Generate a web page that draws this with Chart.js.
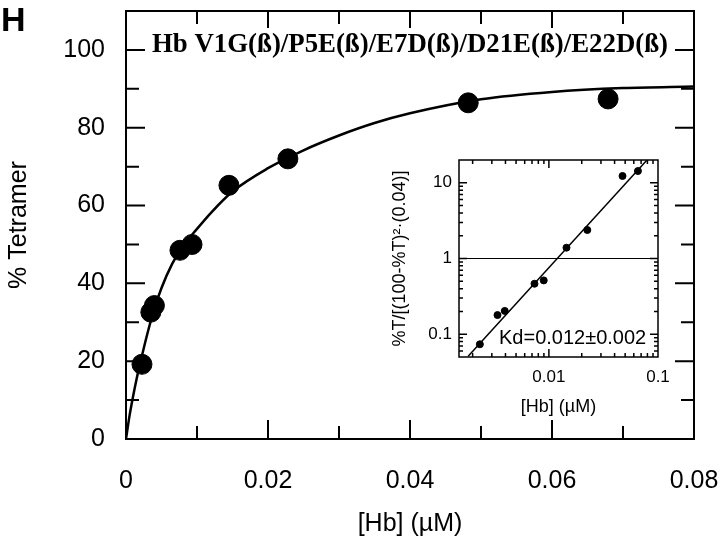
<!DOCTYPE html>
<html>
<head>
<meta charset="utf-8">
<script src="https://cdn.jsdelivr.net/npm/chart.js@4"></script>
<style>
    body { margin: 0; background: #fff; }
    #wrap { position: relative; width: 720px; height: 542px; }
    #wrap canvas { position: absolute; left: 0; top: 0; }
</style>
</head>
<body>
<div id="wrap">
    <canvas id="mainChart" width="720" height="542"></canvas>
    <canvas id="insetChart" width="720" height="542"></canvas>
</div>
<script>
// Main panel data (% tetramer vs [Hb])
const hbConc = [0.00225, 0.0035, 0.0040, 0.0076, 0.0093, 0.0145, 0.0228, 0.0482, 0.0679];
const pctTetramer = [19.2, 32.6, 34.3, 48.5, 50.0, 65.2, 72.0, 86.4, 87.4];

// Fitted curve
const fitConc = [0, 0.0005, 0.001, 0.0015, 0.002, 0.003, 0.004, 0.005, 0.0065, 0.008, 0.01, 0.012, 0.015, 0.02, 0.025, 0.03, 0.035, 0.04, 0.05, 0.06, 0.07, 0.08];
const fitPct = [0, 6, 11, 15.5, 19.5, 27, 33.5, 38.8, 45, 49.5, 54, 58.2, 63.6, 69.6, 74.2, 78, 81.2, 83.7, 87.3, 89.2, 90.2, 90.6];

const xTicks = [0, 0.02, 0.04, 0.06, 0.08];
const yTicks = [0, 20, 40, 60, 80, 100];

// Inset data (log-log)
const insetConc = [0.00233, 0.00338, 0.00394, 0.00738, 0.00897, 0.0145, 0.0225, 0.0473, 0.0655];
const insetRatio = [0.0736, 0.179, 0.203, 0.464, 0.514, 1.39, 2.38, 12.3, 14.3];
const insetFitConc = [0.00182, 0.0786];
const insetFitRatio = [0.051, 19.7];
const unityConc = [0.0015, 0.1];
const unityRatio = [1, 1];
const insetXTicks = [0.01, 0.1];
const insetYTicks = [0.1, 1, 10];

const SANS = '"Liberation Sans", Arial, sans-serif';
const SERIF = '"Liberation Serif", "Times New Roman", serif';
const NO_LINE = 'rgba(0,0,0,0)';

function pts(xs, ys) {
    return xs.map((x, i) => ({ x: x, y: ys[i] }));
}

// Frame, inward ticks and texts for the main panel
const mainDecor = {
    id: 'mainDecor',
    afterDraw(chart) {
        const ctx = chart.ctx;
        const a = chart.chartArea;
        const xs = chart.scales.x, ys = chart.scales.y;
        ctx.save();
        ctx.strokeStyle = '#000';
        ctx.lineWidth = 2;
        ctx.strokeRect(a.left, a.top, a.right - a.left, a.bottom - a.top);

        ctx.beginPath();
        for (let i = 1; i < 8; i++) {
            const px = xs.getPixelForValue(i * 0.01);
            const len = i % 2 === 0 ? 19 : 13;
            ctx.moveTo(px, a.bottom); ctx.lineTo(px, a.bottom - len);
            ctx.moveTo(px, a.top); ctx.lineTo(px, a.top + len);
        }
        for (let v = 10; v <= 100; v += 10) {
            const py = ys.getPixelForValue(v);
            const len = v % 20 === 0 ? 19 : 13;
            ctx.moveTo(a.left, py); ctx.lineTo(a.left + len, py);
            ctx.moveTo(a.right, py); ctx.lineTo(a.right - len, py);
        }
        ctx.stroke();

        ctx.fillStyle = '#000';
        // panel letter
        ctx.font = 'bold 34px ' + SANS;
        ctx.textAlign = 'left';
        ctx.textBaseline = 'alphabetic';
        ctx.fillText('H', 1, 31);

        // title inside the plot
        const title = 'Hb V1G(ß)/P5E(ß)/E7D(ß)/D21E(ß)/E22D(ß)';
        ctx.font = 'bold 27px ' + SERIF;
        const w = ctx.measureText(title).width;
        ctx.fillStyle = '#fff';
        ctx.fillRect(148, 28, 524, 30);
        ctx.fillStyle = '#000';
        ctx.save();
        ctx.translate(152, 52);
        ctx.scale(516 / w, 1);
        ctx.fillText(title, 0, 0);
        ctx.restore();

        // axis titles
        ctx.font = '25px ' + SANS;
        ctx.textAlign = 'center';
        ctx.textBaseline = 'middle';
        ctx.fillText('[Hb] (µM)', (a.left + a.right) / 2, 524);
        ctx.save();
        ctx.translate(19, (a.top + a.bottom) / 2);
        ctx.rotate(-Math.PI / 2);
        ctx.fillText('% Tetramer', 0, 0);
        ctx.restore();
        ctx.restore();
    }
};

new Chart(document.getElementById('mainChart'), {
    type: 'scatter',
    data: {
        datasets: [
            {
                data: pts(hbConc, pctTetramer),
                backgroundColor: '#000',
                borderColor: '#000',
                pointRadius: 10,
                pointHoverRadius: 10
            },
            {
                data: pts(fitConc, fitPct),
                showLine: true,
                pointRadius: 0,
                borderColor: '#000',
                borderWidth: 2.5,
                cubicInterpolationMode: 'monotone',
                fill: false
            }
        ]
    },
    options: {
        responsive: false,
        animation: false,
        devicePixelRatio: 1,
        layout: { padding: { left: 0, right: 26, top: 4, bottom: 0 } },
        plugins: { legend: { display: false }, tooltip: { enabled: false } },
        scales: {
            x: {
                type: 'linear',
                min: 0,
                max: 0.08,
                grid: { color: NO_LINE, drawOnChartArea: false, drawTicks: true, tickLength: 27 },
                border: { display: false },
                afterBuildTicks: (s) => { s.ticks = xTicks.map(v => ({ value: v })); },
                afterFit: (s) => { s.height = 103; },
                ticks: {
                    color: '#000',
                    padding: 0,
                    font: { family: SANS, size: 25 },
                    callback: (v) => v === 0 ? '0' : v.toFixed(2)
                }
            },
            y: {
                min: 0,
                max: 110,
                grid: { color: NO_LINE, drawOnChartArea: false, drawTicks: true, tickLength: 21 },
                border: { display: false },
                afterBuildTicks: (s) => { s.ticks = yTicks.map(v => ({ value: v })); },
                afterFit: (s) => { s.width = 126; },
                ticks: {
                    color: '#000',
                    padding: 0,
                    font: { family: SANS, size: 25, lineHeight: 0.3 }
                }
            }
        }
    },
    plugins: [mainDecor]
});

// Inset: frame, log ticks and texts
const insetDecor = {
    id: 'insetDecor',
    afterDraw(chart) {
        const ctx = chart.ctx;
        const a = chart.chartArea;
        const xs = chart.scales.x, ys = chart.scales.y;
        ctx.save();
        ctx.strokeStyle = '#000';
        ctx.lineWidth = 1.5;
        ctx.strokeRect(a.left, a.top, a.right - a.left, a.bottom - a.top);

        ctx.beginPath();
        [0.001, 0.01].forEach(dec => {
            for (let m = 1; m <= 9; m++) {
                const v = dec * m;
                if (v <= 0.0015 || v >= 0.1) continue;
                const px = xs.getPixelForValue(v);
                const len = m === 1 ? 8 : 4;
                ctx.moveTo(px, a.bottom); ctx.lineTo(px, a.bottom - len);
                ctx.moveTo(px, a.top); ctx.lineTo(px, a.top + len);
            }
        });
        [0.01, 0.1, 1, 10].forEach(dec => {
            for (let m = 1; m <= 9; m++) {
                const v = dec * m;
                if (v <= 0.05 || v >= 20) continue;
                const py = ys.getPixelForValue(v);
                const len = m === 1 ? 8 : 4;
                ctx.moveTo(a.left, py); ctx.lineTo(a.left + len, py);
                ctx.moveTo(a.right, py); ctx.lineTo(a.right - len, py);
            }
        });
        ctx.stroke();

        ctx.fillStyle = '#000';
        ctx.font = '20px ' + SANS;
        ctx.textAlign = 'left';
        ctx.textBaseline = 'middle';
        ctx.fillText('Kd=0.012±0.002', 499, 338);

        ctx.font = '18px ' + SANS;
        ctx.textAlign = 'center';
        ctx.fillText('[Hb] (µM)', (a.left + a.right) / 2, 407);
        ctx.save();
        ctx.translate(400, (a.top + a.bottom) / 2);
        ctx.rotate(-Math.PI / 2);
        ctx.fillText('%T/[(100-%T)²·(0.04)]', 0, 0);
        ctx.restore();
        ctx.restore();
    }
};

new Chart(document.getElementById('insetChart'), {
    type: 'scatter',
    data: {
        datasets: [
            {
                data: pts(insetConc, insetRatio),
                backgroundColor: '#000',
                borderColor: '#000',
                pointRadius: 3.5,
                pointHoverRadius: 3.5
            },
            {
                data: pts(insetFitConc, insetFitRatio),
                showLine: true,
                pointRadius: 0,
                borderColor: '#000',
                borderWidth: 1.5
            },
            {
                data: pts(unityConc, unityRatio),
                showLine: true,
                pointRadius: 0,
                borderColor: '#000',
                borderWidth: 1.2
            }
        ]
    },
    options: {
        responsive: false,
        animation: false,
        devicePixelRatio: 1,
        layout: { padding: { left: 419, right: 62, top: 160, bottom: 155 } },
        plugins: { legend: { display: false }, tooltip: { enabled: false } },
        scales: {
            x: {
                type: 'logarithmic',
                min: 0.0015,
                max: 0.1,
                grid: { display: false, drawTicks: false },
                border: { display: false },
                afterBuildTicks: (s) => { s.ticks = insetXTicks.map(v => ({ value: v })); },
                afterFit: (s) => { s.height = 30; },
                ticks: {
                    color: '#000',
                    padding: 10,
                    font: { family: SANS, size: 17 },
                    callback: (v) => String(v)
                }
            },
            y: {
                type: 'logarithmic',
                min: 0.05,
                max: 20,
                grid: { display: false, drawTicks: false },
                border: { display: false },
                afterBuildTicks: (s) => { s.ticks = insetYTicks.map(v => ({ value: v })); },
                afterFit: (s) => { s.width = 40; },
                ticks: {
                    color: '#000',
                    padding: 7,
                    font: { family: SANS, size: 17 },
                    callback: (v) => String(v)
                }
            }
        }
    },
    plugins: [insetDecor]
});
</script>
</body>
</html>
